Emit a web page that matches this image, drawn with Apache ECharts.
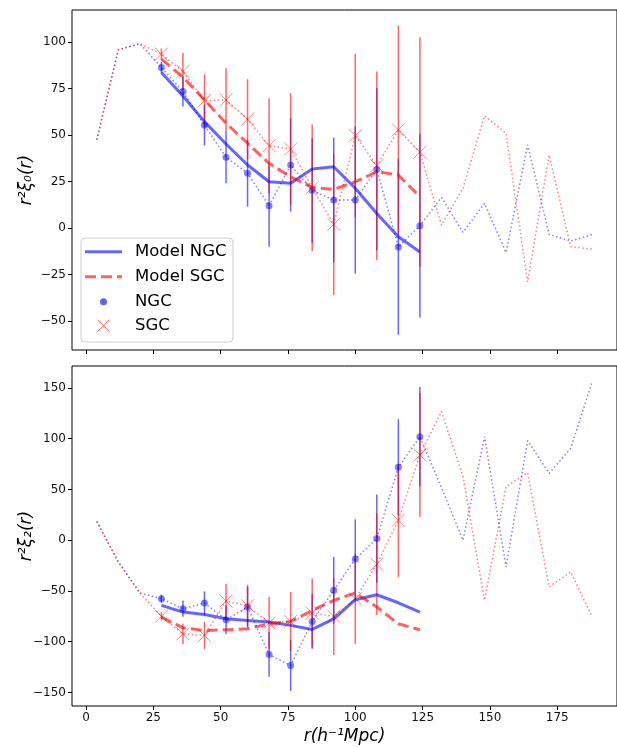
<!DOCTYPE html>
<html>
<head>
<meta charset="utf-8">
<script src="https://cdn.jsdelivr.net/npm/echarts@6/dist/echarts.min.js"></script>
<style>
html,body{margin:0;padding:0;background:#fff;}
#chart{width:617px;height:747px;}
</style>
</head>
<body>
<div id="chart"></div>
<script>
// ---- data ----
const xAll = [4,12,20,28,36,44,52,60,68,76,84,92,100,108,116,124,132,140,148,156,164,172,180,188];
const fitStart = 3, fitEnd = 16; // bins with measured points / model
const xTicks = [0,25,50,75,100,125,150,175];
const yTicksTop = [-50,-25,0,25,50,75,100];
const yTicksBottom = [-150,-100,-50,0,50,100,150];

// monopole r^2 xi_0
const ngcXi0 = [47.4,95.8,99.1,86.3,73.4,55.3,38.1,29.5,12.0,33.9,20.3,15.1,15.1,31.6,-10.1,1.3,16.5,-2.3,13.3,-13.1,44.7,-3.4,-7.0,-3.4];
const sgcXi0 = [47.4,95.8,99.1,93.5,84.2,68.6,68.9,58.5,44.3,42.5,21.7,2.0,49.7,33.5,52.8,40.8,1.6,21.4,60.3,51.0,-28.9,39.3,-10.0,-11.3];
const ngcXi0Err = [3,8,11,14,18,22,25,28,33.5,39.5,43.5,47.2,49.4];
const sgcXi0Err = [3,10,14,17,21.5,25.5,30,34,38,44,50.7,56,61.7];
const modelNgcXi0 = [83.6,71.0,57.2,45.2,33.9,24.9,24.1,31.8,33.0,21.4,7.9,-4.7,-12.8];
const modelSgcXi0 = [90.8,81.1,68.9,56.4,45.6,34.8,27.6,21.9,20.8,24.9,30.3,28.5,16.9];

// quadrupole r^2 xi_2
const ngcXi2 = [18.5,-21.4,-52,-57.6,-67.5,-61.9,-78.3,-65.8,-112.6,-123.4,-80,-49.4,-18.4,1.6,71.8,102.0,52,0,102,-26.3,98,65.8,90.5,156.3];
const sgcXi2 = [18.5,-21.4,-52,-75,-92.2,-93.8,-59.9,-64.5,-81.6,-80,-71.7,-75,-57.6,-23.7,19.7,83.9,126.7,63,-59.2,52.7,66.5,-46,-31.3,-75.7];
const ngcXi2Err = [4,8,11.5,14,20,22,25,27,33,39,43.5,47.4,49];
const sgcXi2Err = [4,10,13.5,17,20.5,25.6,29,34,38,44.5,50,56,61];
const modelNgcXi2 = [-64.2,-70.8,-73.1,-77.4,-79,-80.6,-83.9,-87.9,-77.4,-58.6,-53.7,-61.6,-70.8];
const modelSgcXi2 = [-75.7,-86.3,-88.9,-88.2,-87.2,-82.3,-80,-69.1,-59.2,-52,-65.8,-82.3,-88.2];

// ---- helpers ----
const xFit = xAll.slice(fitStart, fitEnd);
const zip = (xs, ys) => xs.map((x, i) => [x, ys[i]]);
const errData = (ys, es) => xFit.map((x, i) => [x, ys[i] - es[i], ys[i] + es[i]]);

const BLUE = 'rgba(0,0,255,0.6)';
const RED = 'rgba(255,0,0,0.6)';
const BLUE_DOT = 'rgba(0,0,255,0.5)';
const RED_DOT = 'rgba(255,0,0,0.5)';
const BLUE_PT = 'rgba(0,0,255,0.62)';
const FONT = '"DejaVu Sans", "Liberation Sans", sans-serif';
const XPATH = 'path://M0,0L10,10M10,0L0,10';
const fmt = v => v < 0 ? '\u2212' + (-v) : '' + v;

function errSeries(ax, ys, es, color) {
  return {
    type: 'custom', xAxisIndex: ax, yAxisIndex: ax, silent: true,
    data: errData(ys, es), encode: {x: 0, y: [1, 2]},
    renderItem: function (params, api) {
      const a = api.coord([api.value(0), api.value(1)]);
      const b = api.coord([api.value(0), api.value(2)]);
      return {type: 'line', shape: {x1: a[0], y1: a[1], x2: b[0], y2: b[1]},
              style: {stroke: color, lineWidth: 1.5}};
    }
  };
}
function lineSeries(ax, data, color, width, type) {
  return {type: 'line', xAxisIndex: ax, yAxisIndex: ax, data: data, showSymbol: false,
          symbol: 'none', silent: true,
          lineStyle: {color: color, width: width, type: type}};
}
function panelSeries(ax, ngcFull, sgcFull, ngcErr, sgcErr, mN, mS) {
  return [
    lineSeries(ax, zip(xFit, mN), BLUE, 3, 'solid'),
    lineSeries(ax, zip(xFit, mS), 'rgba(255,0,0,0.62)', 3, [11, 5]),
    errSeries(ax, ngcFull.slice(fitStart, fitEnd), ngcErr, BLUE),
    errSeries(ax, sgcFull.slice(fitStart, fitEnd), sgcErr, RED),
    lineSeries(ax, zip(xAll, ngcFull), BLUE_DOT, 1.5, [1.5, 2.5]),
    lineSeries(ax, zip(xAll, sgcFull), RED_DOT, 1.5, [1.5, 2.5]),
    {type: 'scatter', xAxisIndex: ax, yAxisIndex: ax, silent: true,
     data: zip(xFit, ngcFull.slice(fitStart, fitEnd)),
     symbol: 'circle', symbolSize: 7, itemStyle: {color: BLUE_PT}},
    {type: 'scatter', xAxisIndex: ax, yAxisIndex: ax, silent: true,
     data: zip(xFit, sgcFull.slice(fitStart, fitEnd)),
     symbol: XPATH, symbolSize: 13,
     itemStyle: {color: 'rgba(0,0,0,0)', borderColor: RED, borderWidth: 1}}
  ];
}

const tickLabel = {fontFamily: FONT, fontSize: 12, color: '#111'};
function xAxisDef(gi, showLabels) {
  return {
    type: 'value', gridIndex: gi, min: -5.2, max: 197.2, position: 'bottom',
    splitLine: {show: false}, axisLine: {show: false, onZero: false},
    axisTick: {show: true, length: 4, customValues: xTicks, lineStyle: {color: '#000'}},
    axisLabel: Object.assign({show: showLabels, margin: 6, customValues: xTicks, formatter: fmt}, tickLabel),
    name: showLabels ? 'r(h\u207B\u00B9Mpc)' : '',
    nameLocation: 'middle', nameGap: 22, nameMoveOverlap: false,
    nameTextStyle: {fontFamily: FONT, fontStyle: 'italic', fontSize: 17, color: '#000'}
  };
}
function yAxisDef(gi, mn, mx, ticks, name) {
  return {
    type: 'value', gridIndex: gi, min: mn, max: mx, position: 'left',
    splitLine: {show: false}, axisLine: {show: false, onZero: false},
    axisTick: {show: true, length: 4, customValues: ticks, lineStyle: {color: '#000'}},
    axisLabel: Object.assign({margin: 6, customValues: ticks, formatter: fmt}, tickLabel),
    name: name, nameLocation: 'middle', nameRotate: 90, nameGap: 37, nameMoveOverlap: false,
    nameTextStyle: {fontFamily: FONT, fontStyle: 'italic', fontSize: 17, color: '#000'}
  };
}

// legend drawn with graphic elements (top panel, lower left)
const LX = 81, LY = 238, rowY = [251.7, 276.7, 301.7, 325.7];
const legendText = ['Model NGC', 'Model SGC', 'NGC', 'SGC'];
const legendEls = [
  {type: 'rect', shape: {x: LX, y: LY, width: 152, height: 104, r: 4},
   style: {fill: 'rgba(255,255,255,0.8)', stroke: '#cccccc', lineWidth: 1}},
  {type: 'line', shape: {x1: 85, y1: rowY[0], x2: 122, y2: rowY[0]},
   style: {stroke: BLUE, lineWidth: 3}},
  {type: 'line', shape: {x1: 85, y1: rowY[1], x2: 122, y2: rowY[1]},
   style: {stroke: 'rgba(255,0,0,0.62)', lineWidth: 3, lineDash: [11, 5]}},
  {type: 'circle', shape: {cx: 103.5, cy: rowY[2], r: 3.5}, style: {fill: BLUE_PT}},
  {type: 'polyline', shape: {points: [[97.5, rowY[3] - 6], [109.5, rowY[3] + 6]]}, style: {stroke: RED, lineWidth: 1}},
  {type: 'polyline', shape: {points: [[109.5, rowY[3] - 6], [97.5, rowY[3] + 6]]}, style: {stroke: RED, lineWidth: 1}}
];
legendText.forEach((t, i) => legendEls.push({
  type: 'text', x: 135, y: rowY[i],
  style: {text: t, fontFamily: FONT, fontSize: 16.5, fill: '#000', verticalAlign: 'middle', align: 'left'}
}));

const chart = echarts.init(document.getElementById('chart'), null, {renderer: 'canvas'});
chart.setOption({
  animation: false,
  backgroundColor: '#fff',
  grid: [
    {left: 72, top: 10, width: 548, height: 340, show: true, borderColor: '#000', borderWidth: 1},
    {left: 72, top: 366, width: 548, height: 340, show: true, borderColor: '#000', borderWidth: 1}
  ],
  xAxis: [xAxisDef(0, false), xAxisDef(1, true)],
  yAxis: [
    yAxisDef(0, -65.5, 117.2, yTicksTop, 'r\u00B2\u03BE\u2080(r)'),
    yAxisDef(1, -163.3, 171.6, yTicksBottom, 'r\u00B2\u03BE\u2082(r)')
  ],
  series: [].concat(
    panelSeries(0, ngcXi0, sgcXi0, ngcXi0Err, sgcXi0Err, modelNgcXi0, modelSgcXi0),
    panelSeries(1, ngcXi2, sgcXi2, ngcXi2Err, sgcXi2Err, modelNgcXi2, modelSgcXi2)
  ),
  graphic: [{type: 'group', z: 100, children: legendEls}]
});
</script>
</body>
</html>
